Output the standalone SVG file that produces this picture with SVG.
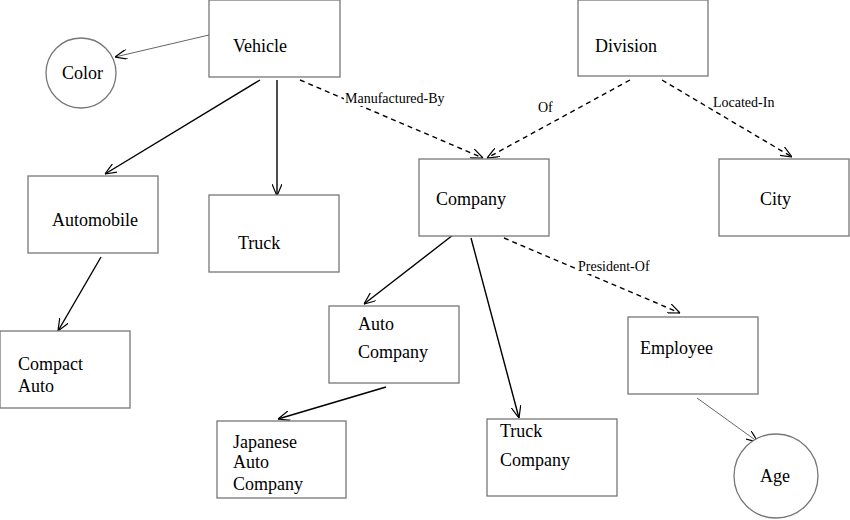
<svg xmlns="http://www.w3.org/2000/svg" width="850" height="520" viewBox="0 0 850 520">
<style>
.n{fill:#fff;stroke:#777;stroke-width:1.3}
.t{font-family:"Liberation Serif",serif;font-size:18px;fill:#000}
.l{font-family:"Liberation Serif",serif;font-size:14px;fill:#000}
.c{stroke:#000;stroke-width:1.4;fill:none;marker-end:url(#a)}
.d{stroke-dasharray:5,4}
.g{stroke:#666;stroke-width:1}
</style>
<defs><marker id="a" viewBox="0 0 12 10" refX="12" refY="5" markerWidth="12" markerHeight="10" markerUnits="userSpaceOnUse" orient="auto"><path d="M0,0 L12,5 L0,10" fill="none" stroke="#000" stroke-width="1.2"/></marker></defs>
<rect width="850" height="520" fill="#fff"/>
<g id="connectors">
<line class="c g" x1="209" y1="35" x2="115" y2="57"/>
<line class="c" x1="260" y1="80" x2="105" y2="174"/>
<line class="c" x1="277" y1="80" x2="277" y2="196"/>
<line class="c d" x1="300" y1="80" x2="483" y2="158"/>
<line class="c d" x1="630" y1="80" x2="487" y2="158"/>
<line class="c d" x1="662" y1="80" x2="792" y2="157"/>
<line class="c" x1="101" y1="257" x2="58" y2="331"/>
<line class="c" x1="453" y1="235" x2="364" y2="304"/>
<line class="c" x1="471" y1="238" x2="519" y2="418"/>
<line class="c d" x1="504" y1="238" x2="680" y2="313"/>
<line class="c" x1="386" y1="387" x2="278" y2="419"/>
<line class="c g" x1="697" y1="398" x2="758" y2="442"/>
<rect x="344" y="90" width="122" height="16" fill="#fff"/>
<text class="l" x="345" y="103">Manufactured-By</text>
<text class="l" x="538" y="112">Of</text>
<text class="l" x="713" y="107">Located-In</text>
<rect x="577" y="258" width="90" height="16" fill="#fff"/>
<text class="l" x="578" y="271">President-Of</text>
</g>
<g id="vehicle"><rect class="n" x="209" y="0" width="131" height="77"/><text class="t" x="233" y="52">Vehicle</text></g>
<g id="color"><circle class="n" cx="81" cy="73" r="35"/><text class="t" x="62" y="79">Color</text></g>
<g id="division"><rect class="n" x="578" y="0" width="130" height="76"/><text class="t" x="595" y="52">Division</text></g>
<g id="automobile"><rect class="n" x="28" y="176" width="130" height="77"/><text class="t" x="52" y="226">Automobile</text></g>
<g id="truck"><rect class="n" x="209" y="195" width="130" height="77"/><text class="t" x="238" y="249">Truck</text></g>
<g id="company"><rect class="n" x="419" y="159" width="130" height="77"/><text class="t" x="436" y="205">Company</text></g>
<g id="city"><rect class="n" x="719" y="159" width="130" height="77"/><text class="t" x="760" y="205">City</text></g>
<g id="compact"><rect class="n" x="0" y="331" width="130" height="77"/><text class="t" x="18" y="370">Compact</text><text class="t" x="18" y="392">Auto</text></g>
<g id="autocompany"><rect class="n" x="329" y="306" width="130" height="77"/><text class="t" x="358" y="330">Auto</text><text class="t" x="358" y="358">Company</text></g>
<g id="employee"><rect class="n" x="628" y="317" width="130" height="77"/><text class="t" x="640" y="354">Employee</text></g>
<g id="japanese"><rect class="n" x="217" y="421" width="129" height="77"/><text class="t" x="233" y="448">Japanese</text><text class="t" x="233" y="468">Auto</text><text class="t" x="233" y="490">Company</text></g>
<g id="truckcompany"><rect class="n" x="487" y="419" width="130" height="77"/><text class="t" x="500" y="437">Truck</text><text class="t" x="500" y="466">Company</text></g>
<g id="age"><circle class="n" cx="776" cy="476" r="42"/><text class="t" x="760" y="482">Age</text></g>
</svg>
